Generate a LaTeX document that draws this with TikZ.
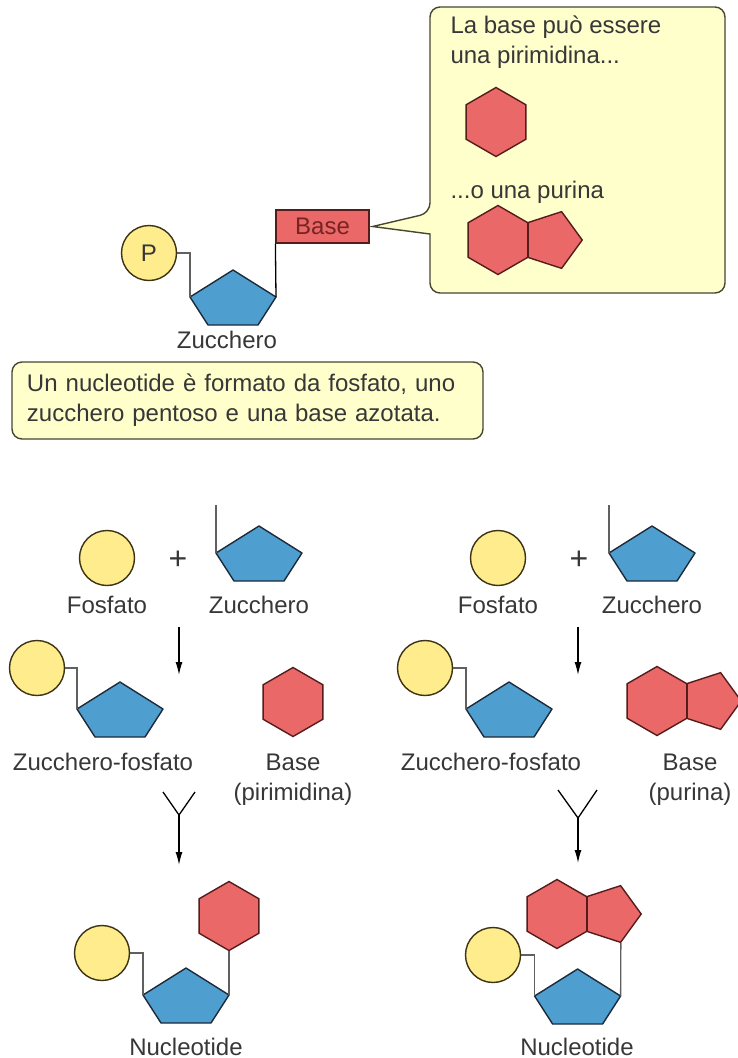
\documentclass[tikz,border=0pt]{standalone}
\usepackage{fontspec}
\setmainfont{Liberation Sans}
\usetikzlibrary{shapes.geometric,arrows.meta}

\definecolor{phosfill}{RGB}{255,236,140}
\definecolor{phosline}{RGB}{60,50,20}
\definecolor{sugarfill}{RGB}{78,158,208}
\definecolor{sugarline}{RGB}{28,42,58}
\definecolor{basefill}{RGB}{234,104,104}
\definecolor{baseedge}{RGB}{85,28,28}
\definecolor{basetext}{RGB}{120,35,35}
\definecolor{notefill}{RGB}{255,255,204}
\definecolor{noteline}{RGB}{70,70,50}
\definecolor{txt}{RGB}{55,55,55}

\tikzset{
  phos/.style={circle, draw=phosline, fill=phosfill, line width=1.4pt, minimum size=55pt, inner sep=0pt},
  pyrim/.style={regular polygon, regular polygon sides=6, shape border rotate=30, draw=baseedge, fill=basefill, line width=1.4pt, minimum size=69pt, inner sep=0pt},
  ring5/.style={regular polygon, regular polygon sides=5, shape border rotate=270, draw=baseedge, fill=basefill, line width=1.4pt, minimum size=59.6pt, inner sep=0pt},
  basebox/.style={draw=baseedge, fill=basefill, line width=1.2pt, minimum width=93pt, minimum height=33pt, inner sep=0pt, text=basetext},
  notebox/.style={draw=noteline, fill=notefill, line width=1.4pt, rounded corners=10pt, minimum height=77pt, text width=441pt, inner xsep=15pt, align=left},
  bubble/.style={draw=noteline, fill=notefill, line width=1.4pt},
  link/.style={draw=gray!75!black, line width=1.3pt},
  react/.style={line width=1.3pt, -{Latex[length=13pt,width=7pt]}},
  lbl/.style={anchor=base},
  plus/.style={font=\fontsize{32}{32}\selectfont},
  sugar/.pic={
    \draw[draw=sugarline, fill=sugarfill, line width=1.4pt, line join=round]
      (0,0) -- (43,27) -- (25,55) -- (-25,55) -- (-43,27) -- cycle;
    \coordinate (-top) at (0,0);
    \coordinate (-left) at (-43,27);
    \coordinate (-right) at (43,27);
  }
}

\begin{document}
\begin{tikzpicture}[x=1pt, y=-1pt, font=\fontsize{24}{30}\selectfont, text=txt]
\useasboundingbox (0,0) rectangle (737,1058);

% ===== Top: the three parts =====
\node[phos] (p0) at (149,253) {P};
\pic (s0) at (233,270) {sugar};
\node[basebox] (b0) at (322.5,226.5) {Base};
\draw[link] (p0.east) -| (s0-left);
\draw[line width=1.3pt] (s0-right) -- (b0.south west);
\node[lbl] (z0) at (227,348) {Zucchero};

% callout with the two kinds of base
\draw[bubble] ([xshift=3pt]b0.east) -- (430,234) [rounded corners=10pt] -- (430,293) -- (725,293)
  -- (725,7) -- (430,7) -- (430,213) [sharp corners] -- cycle;
\node[anchor=base west] (t1) at (447,33) {La base può essere};
\node[anchor=base west] (t2) at (447,63) {una pirimidina...};
\node[pyrim] (h1) at (496,122) {};
\node[anchor=base west] (t3) at (447,198) {...o una purina};
\node[pyrim] (h2) at (498,240) {};
\node[ring5, xshift=54.4pt] (r2) at (h2.center) {};

\node[notebox] (note) at (247.5,400.5) {Un nucleotide è formato da fosfato, uno\\zucchero pentoso e una base azotata.};

% ===== Bottom left: pyrimidine =====
\node[phos] (f1) at (107,558) {};
\node[lbl] (f1t) at (107,613) {Fosfato};
\node[plus] (plus1) at (178,560) {+};
\pic (s1) at (259,526) {sugar};
\coordinate (k1) at (216,505);
\draw[link] (s1-left) -- (k1);
\node[lbl] (z1) at (259,613) {Zucchero};
\coordinate (a1) at (179,627);
\coordinate (a1e) at (179,675);
\draw[react] (a1) -- (a1e);

\node[phos] (f3) at (37,668) {};
\pic (s3) at (120,682) {sugar};
\draw[link] (f3.east) -| (s3-left);
\node[lbl] (zf3) at (103,770) {Zucchero-fosfato};
\node[pyrim] (h3) at (293,702) {};
\node[lbl] (bt3) at (293,770) {Base};
\node[lbl] (bp3) at (293,800) {(pirimidina)};

\coordinate (y1l) at (163,792);
\coordinate (y1r) at (195,792);
\coordinate (y1) at (179,815);
\coordinate (y1e) at (179,865);
\draw[line width=1.3pt] (y1l) -- (y1) -- (y1r);
\draw[react] (y1) -- (y1e);

\node[phos] (f5) at (102,953) {};
\pic (s5) at (186,968) {sugar};
\node[pyrim] (h5) at (229,916) {};
\draw[link] (f5.east) -| (s5-left);
\draw[link] (s5-right) -- (h5.270);
\node[lbl] (n5) at (186,1055) {Nucleotide};

% ===== Bottom right: purine =====
\node[phos] (f2) at (498,558) {};
\node[lbl] (f2t) at (498,613) {Fosfato};
\node[plus] (plus2) at (579,560) {+};
\pic (s2) at (652,526) {sugar};
\coordinate (k2) at (609,505);
\draw[link] (s2-left) -- (k2);
\node[lbl] (z2) at (652,613) {Zucchero};
\coordinate (a2) at (578,627);
\coordinate (a2e) at (578,675);
\draw[react] (a2) -- (a2e);

\node[phos] (f4) at (425,668) {};
\pic (s4) at (509,682) {sugar};
\draw[link] (f4.east) -| (s4-left);
\node[lbl] (zf4) at (491,770) {Zucchero-fosfato};
\node[pyrim] (h4) at (657,701) {};
\node[ring5, xshift=54.4pt] (r4) at (h4.center) {};
\node[lbl] (bt4) at (690,770) {Base};
\node[lbl] (bp4) at (690,800) {(purina)};

\coordinate (y2l) at (558,790);
\coordinate (y2r) at (597,790);
\coordinate (y2) at (578,818);
\coordinate (y2e) at (578,863);
\draw[line width=1.3pt] (y2l) -- (y2) -- (y2r);
\draw[react] (y2) -- (y2e);

\node[phos] (f6) at (493,955) {};
\pic (s6) at (577.6,969) {sugar};
\node[pyrim] (h6) at (557,914) {};
\node[ring5, xshift=54.4pt] (r6) at (h6.center) {};
\draw[link] (f6.east) -| (s6-left);
\draw[link] (s6-right) -- (r6.corner 5);
\node[lbl] (n6) at (577,1055) {Nucleotide};

\end{tikzpicture}
\end{document}
